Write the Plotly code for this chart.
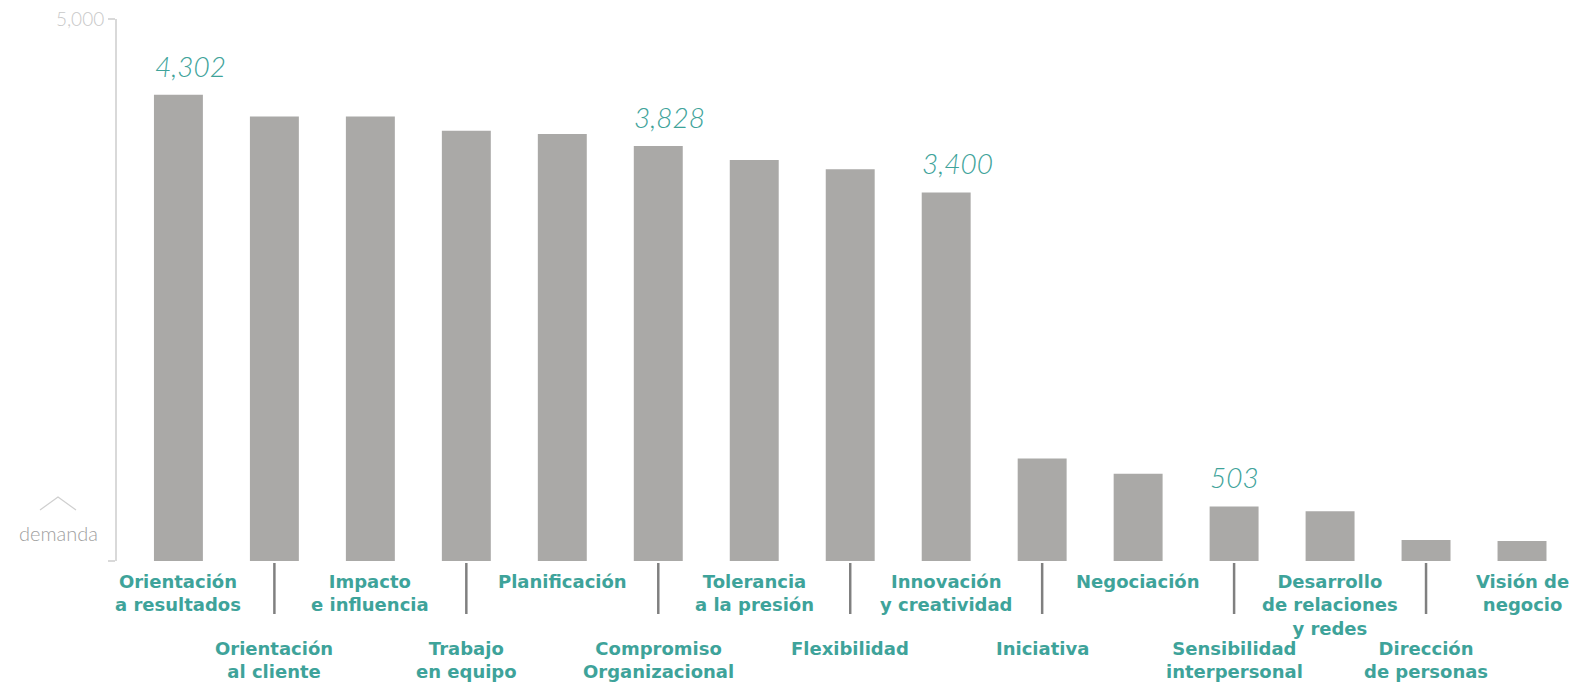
import plotly.graph_objects as go

categories = [
    "Orientación<br>a resultados", "Orientación<br>al cliente", "Impacto<br>e influencia",
    "Trabajo<br>en equipo", "Planificación", "Compromiso<br>Organizacional",
    "Tolerancia<br>a la presión", "Flexibilidad", "Innovación<br>y creatividad",
    "Iniciativa", "Negociación", "Sensibilidad<br>interpersonal",
    "Desarrollo<br>de relaciones<br>y redes", "Dirección<br>de personas", "Visión de<br>negocio",
]
values = [4302, 4100, 4100, 3970, 3940, 3828, 3700, 3615, 3400, 945, 805, 503, 460, 194, 185]
highlighted = [0, 5, 8, 11]
y_ticks = [0, 5000]
y_tick_text = ["", "5,000"]

W, H = 1577, 684
L, R, T, B = 117, 7, 19, 123
TEAL = "#3ea39a"
BAR = "#aaa9a7"

def py(ypx):
    return (H - B - ypx) / (H - T - B)

def px(xpx):
    return (xpx - L) / (W - L - R)

xs = list(range(len(categories)))
fig = go.Figure(go.Bar(x=xs, y=values, marker=dict(color=BAR, line=dict(width=0)),
                       width=0.51, hoverinfo="skip"))

annotations = []
shapes = []
for i, cat in enumerate(categories):
    upper = i % 2 == 0
    annotations.append(dict(
        x=i, xref="x", y=py(570 if upper else 637), yref="paper",
        text=cat, showarrow=False, xanchor="center", yanchor="top", align="center",
        font=dict(family="DejaVu Sans", size=18, color=TEAL, weight="bold"),
        borderpad=0,
    ))
    if not upper:
        shapes.append(dict(type="line", xref="x", yref="paper", x0=i, x1=i,
                           y0=py(563), y1=py(614), line=dict(color="#808080", width=2.5)))

for i in highlighted:
    annotations.append(dict(
        x=i - 0.27, xref="x", y=values[i], yref="y", yshift=10,
        text=f"{values[i]:,}", showarrow=False, xanchor="left", yanchor="bottom",
        font=dict(family="Lato", size=28, color=TEAL, style="italic", weight=300),
    ))

annotations.append(dict(
    x=px(58), xref="paper", y=py(533), yref="paper", text="demanda", showarrow=False,
    xanchor="center", yanchor="middle",
    font=dict(family="Lato", size=20, color="#a0a0a0", weight=300),
))
shapes.append(dict(type="path", xref="paper", yref="paper",
                   path=f"M {px(40)} {py(510)} L {px(58)} {py(497)} L {px(76)} {py(510)}",
                   line=dict(color="#cfcfcf", width=1.2)))

fig.update_layout(
    width=W, height=H,
    margin=dict(l=L, r=R, t=T, b=B),
    paper_bgcolor="white", plot_bgcolor="white",
    showlegend=False,
    bargap=0.49,
    xaxis=dict(range=[-0.64, 14.5], showticklabels=False, showgrid=False,
               zeroline=False, showline=False, ticks=""),
    yaxis=dict(range=[0, 5000], tickvals=y_ticks, ticktext=y_tick_text,
               showgrid=False, zeroline=False, showline=True, linecolor="#d9d9d9",
               linewidth=2, ticks="outside", ticklen=7, tickcolor="#d9d9d9",
               tickwidth=2,
               tickfont=dict(family="Lato", size=19, color="#c8c8c8", weight=300)),
    annotations=annotations,
    shapes=shapes,
)

fig.write_html("out.html")
